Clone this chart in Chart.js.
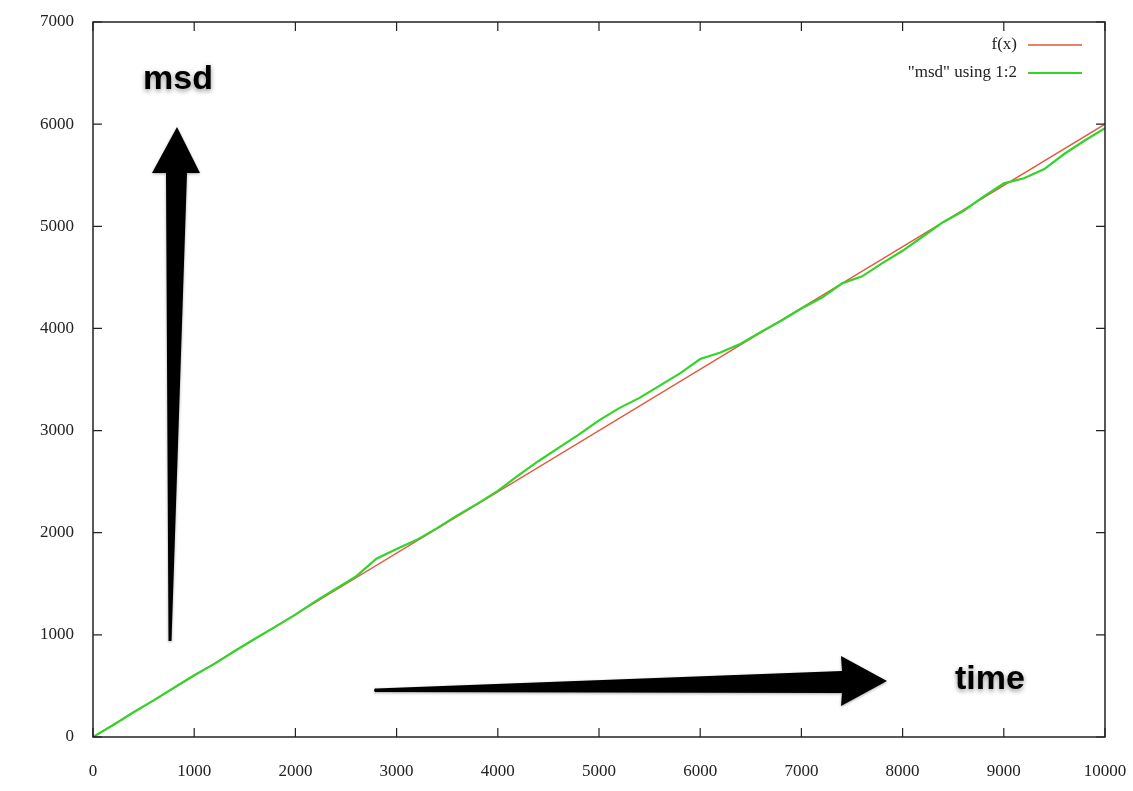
<!DOCTYPE html>
<html>
<head>
<meta charset="utf-8">
<script src="https://cdn.jsdelivr.net/npm/chart.js@4/dist/chart.umd.min.js"></script>
<style>
  html, body { margin: 0; padding: 0; background: #fff; }
  #wrap { width: 1133px; height: 791px; }
</style>
</head>
<body>
<div id="wrap"><canvas id="chart"></canvas></div>
<script>
const timeSteps = [0, 200, 400, 600, 800, 1000, 1200, 1400, 1600, 1800, 2000,
    2200, 2400, 2600, 2800, 3000, 3200, 3400, 3600, 3800, 4000,
    4200, 4400, 4600, 4800, 5000, 5200, 5400, 5600, 5800, 6000,
    6200, 6400, 6600, 6800, 7000, 7200, 7400, 7600, 7800, 8000,
    8200, 8400, 8600, 8800, 9000, 9200, 9400, 9600, 9800, 10000];
const msdValues = [0, 118, 242, 358, 482, 605, 716, 842, 962, 1078, 1198,
    1330, 1452, 1572, 1745, 1840, 1930, 2045, 2170, 2285, 2410,
    2560, 2700, 2830, 2960, 3100, 3220, 3320, 3440, 3560, 3700,
    3765, 3850, 3965, 4075, 4195, 4300, 4440, 4510, 4640, 4760,
    4900, 5040, 5150, 5290, 5420, 5470, 5560, 5710, 5840, 5960];

// fitted line f(x)
const fitX = [0, 10000];
const fitY = [0, 6000];

const xTicks = [0, 1000, 2000, 3000, 4000, 5000, 6000, 7000, 8000, 9000, 10000];
const yTicks = [0, 1000, 2000, 3000, 4000, 5000, 6000, 7000];

const serif = '"Liberation Serif", "DejaVu Serif", serif';

// gnuplot-like frame, inward ticks on all sides, legend and the hand-drawn annotations
const decorPlugin = {
    id: 'decor',
    afterDraw(chart) {
        const ctx = chart.ctx;
        const a = chart.chartArea;
        const xs = chart.scales.x, ys = chart.scales.y;
        ctx.save();

        // frame
        ctx.strokeStyle = '#222';
        ctx.lineWidth = 1.5;
        ctx.strokeRect(a.left, a.top, a.right - a.left, a.bottom - a.top);

        // inward ticks
        const tl = 9;
        ctx.lineWidth = 1.2;
        ctx.beginPath();
        xTicks.forEach(v => {
            const px = xs.getPixelForValue(v);
            ctx.moveTo(px, a.bottom); ctx.lineTo(px, a.bottom - tl);
            ctx.moveTo(px, a.top); ctx.lineTo(px, a.top + tl);
        });
        yTicks.forEach(v => {
            const py = ys.getPixelForValue(v);
            ctx.moveTo(a.left, py); ctx.lineTo(a.left + tl, py);
            ctx.moveTo(a.right, py); ctx.lineTo(a.right - tl, py);
        });
        ctx.stroke();

        // legend (top right, text right aligned, sample line after it)
        ctx.font = '17px ' + serif;
        ctx.textAlign = 'right';
        ctx.textBaseline = 'middle';
        chart.data.datasets.forEach((ds, i) => {
            const y = a.top + 23 + i * 28;
            ctx.fillStyle = '#222';
            ctx.fillText(ds.label, a.right - 88, y);
            ctx.strokeStyle = ds.borderColor;
            ctx.lineWidth = ds.borderWidth;
            ctx.beginPath();
            ctx.moveTo(a.right - 77, y);
            ctx.lineTo(a.right - 23, y);
            ctx.stroke();
        });

        // arrows
        ctx.fillStyle = '#000';
        ctx.shadowColor = 'rgba(0,0,0,0.35)';
        ctx.shadowBlur = 3;
        ctx.shadowOffsetY = 1;

        // up arrow (msd)
        ctx.beginPath();
        ctx.moveTo(168.5, 641);
        ctx.lineTo(166, 173);
        ctx.lineTo(152, 173);
        ctx.lineTo(177, 127);
        ctx.lineTo(200, 173);
        ctx.lineTo(187, 173);
        ctx.lineTo(171.5, 641);
        ctx.closePath();
        ctx.fill();

        // right arrow (time)
        ctx.beginPath();
        ctx.moveTo(376, 688.5);
        ctx.lineTo(842, 671);
        ctx.lineTo(841, 656);
        ctx.lineTo(887, 681);
        ctx.lineTo(841, 706);
        ctx.lineTo(842, 693);
        ctx.lineTo(376, 692);
        ctx.arc(376, 690.25, 1.9, Math.PI / 2, Math.PI * 1.5);
        ctx.closePath();
        ctx.fill();

        // bold labels with soft shadow
        ctx.font = 'bold 34px "Liberation Sans", Arial, sans-serif';
        ctx.textAlign = 'center';
        ctx.textBaseline = 'alphabetic';
        ctx.shadowColor = 'rgba(0,0,0,0.45)';
        ctx.shadowBlur = 5;
        ctx.shadowOffsetY = 2;
        ctx.fillStyle = '#000';
        ctx.fillText('msd', 178, 89);
        ctx.fillText('time', 990, 689);

        ctx.restore();
    }
};

const ctx = document.getElementById('chart');
new Chart(ctx, {
    type: 'line',
    data: {
        datasets: [{
            label: 'f(x)',
            data: fitX.map((x, i) => ({ x: x, y: fitY[i] })),
            borderColor: '#e4553a',
            borderWidth: 1.3,
            pointRadius: 0,
            order: 1
        }, {
            label: '"msd" using 1:2',
            data: timeSteps.map((t, i) => ({ x: t, y: msdValues[i] })),
            borderColor: '#33d42a',
            borderWidth: 2.2,
            pointRadius: 0,
            tension: 0,
            order: 0
        }]
    },
    options: {
        responsive: true,
        maintainAspectRatio: false,
        animation: false,
        layout: { padding: { left: 0, top: 22, right: 28, bottom: 0 } },
        plugins: {
            legend: { display: false },
            tooltip: { enabled: false }
        },
        scales: {
            x: {
                type: 'linear',
                min: 0,
                max: 10000,
                afterFit(scale) {
                    scale.height = 54;
                    scale.paddingRight = 0;
                    scale.paddingLeft = 0;
                },
                afterBuildTicks(scale) { scale.ticks = xTicks.map(v => ({ value: v })); },
                grid: { display: false },
                border: { display: false },
                ticks: {
                    padding: 16,
                    color: '#222',
                    maxRotation: 0,
                    font: { family: serif, size: 17 },
                    callback: v => String(v)
                }
            },
            y: {
                type: 'linear',
                min: 0,
                max: 7000,
                afterFit(scale) { scale.width = 93; },
                afterBuildTicks(scale) { scale.ticks = yTicks.map(v => ({ value: v })); },
                grid: { display: false },
                border: { display: false },
                ticks: {
                    padding: 11,
                    color: '#222',
                    font: { family: serif, size: 17 },
                    callback: v => String(v)
                }
            }
        }
    },
    plugins: [decorPlugin]
});
</script>
</body>
</html>
